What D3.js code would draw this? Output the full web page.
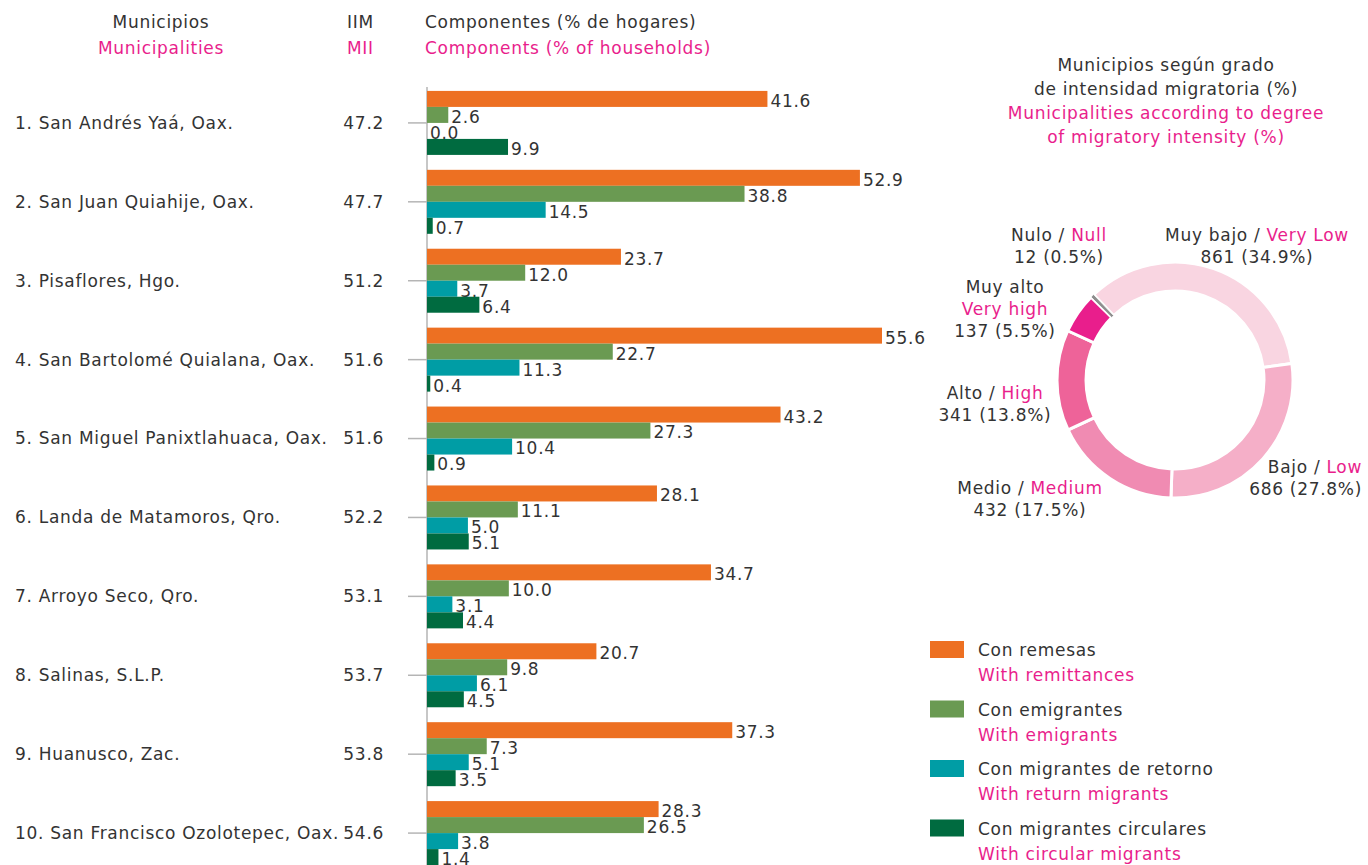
<!DOCTYPE html>
<html>
<head>
<meta charset="utf-8">
<script src="https://cdn.jsdelivr.net/npm/d3@7/dist/d3.min.js"></script>
<style>
  html, body { margin: 0; padding: 0; background: #fff; }
  svg { display: block; font-family: "DejaVu Sans", sans-serif; letter-spacing: 0.7px; }
</style>
</head>
<body>
<svg id="chart" width="1368" height="865"></svg>
<script>
// Top ten municipalities by migratory intensity index (IIM)
const municipalities = [
  "1. San Andrés Yaá, Oax.",
  "2. San Juan Quiahije, Oax.",
  "3. Pisaflores, Hgo.",
  "4. San Bartolomé Quialana, Oax.",
  "5. San Miguel Panixtlahuaca, Oax.",
  "6. Landa de Matamoros, Qro.",
  "7. Arroyo Seco, Qro.",
  "8. Salinas, S.L.P.",
  "9. Huanusco, Zac.",
  "10. San Francisco Ozolotepec, Oax."
];
const iim = [47.2, 47.7, 51.2, 51.6, 51.6, 52.2, 53.1, 53.7, 53.8, 54.6];

// Components (% of households)
const remittances = [41.6, 52.9, 23.7, 55.6, 43.2, 28.1, 34.7, 20.7, 37.3, 28.3];
const emigrants   = [2.6, 38.8, 12.0, 22.7, 27.3, 11.1, 10.0, 9.8, 7.3, 26.5];
const returnMig   = [0.0, 14.5, 3.7, 11.3, 10.4, 5.0, 3.1, 6.1, 5.1, 3.8];
const circularMig = [9.9, 0.7, 6.4, 0.4, 0.9, 5.1, 4.4, 4.5, 3.5, 1.4];

const seriesKeys = ["remesas", "emigrantes", "retorno", "circulares"];
const seriesEs = ["Con remesas", "Con emigrantes", "Con migrantes de retorno", "Con migrantes circulares"];
const seriesEn = ["With remittances", "With emigrants", "With return migrants", "With circular migrants"];
const seriesColors = ["#ed7022", "#6a9a52", "#009da5", "#006b40"];
const seriesValues = [remittances, emigrants, returnMig, circularMig];

// Municipalities by degree of migratory intensity
const degreeEs = ["Muy bajo", "Bajo", "Medio", "Alto", "Muy alto", "Nulo"];
const degreeEn = ["Very Low", "Low", "Medium", "High", "Very high", "Null"];
const degreeCounts = [861, 686, 432, 341, 137, 12];
const degreePct = [34.9, 27.8, 17.5, 13.8, 5.5, 0.5];
const degreeColors = ["#f9d5e1", "#f5afc8", "#f08bb2", "#ee6399", "#e91e8c", "#8e8e8e"];

const DARK = "#333333";
const PINK = "#e91e8c";
const FS = 17;

const svg = d3.select("#chart");

// ---------- Header ----------
const head = svg.append("g").attr("font-size", FS);
head.append("text").attr("x", 161).attr("y", 28).attr("text-anchor", "middle").attr("fill", DARK).text("Municipios");
head.append("text").attr("x", 161).attr("y", 54).attr("text-anchor", "middle").attr("fill", PINK).text("Municipalities");
head.append("text").attr("x", 347).attr("y", 28).attr("fill", DARK).text("IIM");
head.append("text").attr("x", 347).attr("y", 54).attr("fill", PINK).text("MII");
head.append("text").attr("x", 425).attr("y", 28).attr("fill", DARK).attr("font-weight", 500).text("Componentes (% de hogares)");
head.append("text").attr("x", 425).attr("y", 54).attr("fill", PINK).text("Components (% of households)");

// ---------- Grouped bar chart ----------
const x = d3.scaleLinear().domain([0, 55.6]).range([427, 882]);
const y = d3.scaleBand().domain(municipalities).range([76, 880]).padding(0.189);
const ySub = d3.scaleBand().domain(seriesKeys).range([0, y.bandwidth()]);

const bars = svg.append("g");

// vertical baseline
bars.append("line")
  .attr("x1", x(0)).attr("x2", x(0))
  .attr("y1", y(municipalities[0]) - 4).attr("y2", 865)
  .attr("stroke", "#b5b5b5").attr("stroke-width", 1.5);

const rows = bars.selectAll("g.row")
  .data(municipalities.map((m, i) => ({ m, i })))
  .join("g")
  .attr("class", "row")
  .attr("transform", d => `translate(0,${y(d.m)})`);

// tick marks at each group centre
rows.append("line")
  .attr("x1", 408).attr("x2", x(0))
  .attr("y1", y.bandwidth() / 2).attr("y2", y.bandwidth() / 2)
  .attr("stroke", "#b5b5b5").attr("stroke-width", 1.5);

// municipality names and index values
rows.append("text")
  .attr("x", 15).attr("y", y.bandwidth() / 2)
  .attr("dy", "0.35em").attr("font-size", FS).attr("fill", DARK)
  .text(d => d.m);
rows.append("text")
  .attr("x", 384).attr("y", y.bandwidth() / 2)
  .attr("dy", "0.35em").attr("text-anchor", "end").attr("font-size", FS).attr("fill", DARK)
  .text(d => iim[d.i].toFixed(1));

seriesKeys.forEach((k, s) => {
  rows.append("rect")
    .attr("x", x(0))
    .attr("y", ySub(k))
    .attr("width", d => x(seriesValues[s][d.i]) - x(0))
    .attr("height", ySub.bandwidth())
    .attr("fill", seriesColors[s]);
  rows.append("text")
    .attr("x", d => x(seriesValues[s][d.i]) + 3)
    .attr("y", ySub(k) + ySub.bandwidth() / 2 + 2)
    .attr("dy", "0.35em")
    .attr("font-size", FS).attr("fill", DARK)
    .text(d => seriesValues[s][d.i].toFixed(1));
});

// ---------- Donut chart ----------
const titleLines = [
  ["Municipios según grado", DARK],
  ["de intensidad migratoria (%)", DARK],
  ["Municipalities according to degree", PINK],
  ["of migratory intensity (%)", PINK]
];
svg.append("g").selectAll("text")
  .data(titleLines).join("text")
  .attr("x", 1166).attr("y", (d, i) => 71 + i * 24)
  .attr("text-anchor", "middle").attr("font-size", FS)
  .attr("fill", d => d[1]).text(d => d[0]);

const cx = 1175, cy = 380;
const startA = -43.6 * Math.PI / 180;
const pie = d3.pie().sort(null).value(d => d)
  .startAngle(startA).endAngle(startA + 2 * Math.PI);
const arc = d3.arc().innerRadius(89).outerRadius(118);
const donut = svg.append("g").attr("transform", `translate(${cx},${cy})`);
donut.selectAll("path")
  .data(pie(degreeCounts)).join("path")
  .attr("d", arc)
  .attr("fill", (d, i) => degreeColors[i])
  .attr("stroke", "#fff")
  .attr("stroke-width", (d, i) => i === degreeCounts.length - 1 ? 0.8 : 3);

// slice labels
const labelPos = [
  { x: 1257, y: 241, anchor: "middle", split: false },
  { x: 1362, y: 473, anchor: "end", split: false },
  { x: 1030, y: 494, anchor: "middle", split: false },
  { x: 995, y: 399, anchor: "middle", split: false },
  { x: 1005, y: 293, anchor: "middle", split: true },
  { x: 1059, y: 241, anchor: "middle", split: false }
];
const lbl = svg.append("g").attr("font-size", FS);
labelPos.forEach((p, i) => {
  const countLine = `${degreeCounts[i]} (${degreePct[i]}%)`;
  if (p.split) {
    lbl.append("text").attr("x", p.x).attr("y", p.y).attr("text-anchor", p.anchor).attr("fill", DARK).text(degreeEs[i]);
    lbl.append("text").attr("x", p.x).attr("y", p.y + 22).attr("text-anchor", p.anchor).attr("fill", PINK).text(degreeEn[i]);
    lbl.append("text").attr("x", p.x).attr("y", p.y + 44).attr("text-anchor", p.anchor).attr("fill", DARK).text(countLine);
  } else {
    const t = lbl.append("text").attr("x", p.x).attr("y", p.y).attr("text-anchor", p.anchor);
    t.append("tspan").attr("fill", DARK).text(degreeEs[i] + " / ");
    t.append("tspan").attr("fill", PINK).text(degreeEn[i]);
    lbl.append("text").attr("x", p.x).attr("y", p.y + 22).attr("text-anchor", p.anchor).attr("fill", DARK).text(countLine);
  }
});

// ---------- Legend ----------
const legend = svg.append("g").attr("font-size", FS);
seriesKeys.forEach((k, i) => {
  const ly = 641 + i * 59.5;
  legend.append("rect").attr("x", 930).attr("y", ly).attr("width", 34).attr("height", 17).attr("fill", seriesColors[i]);
  legend.append("text").attr("x", 978).attr("y", ly + 15).attr("fill", DARK).text(seriesEs[i]);
  legend.append("text").attr("x", 978).attr("y", ly + 40).attr("fill", PINK).text(seriesEn[i]);
});
</script>
</body>
</html>
